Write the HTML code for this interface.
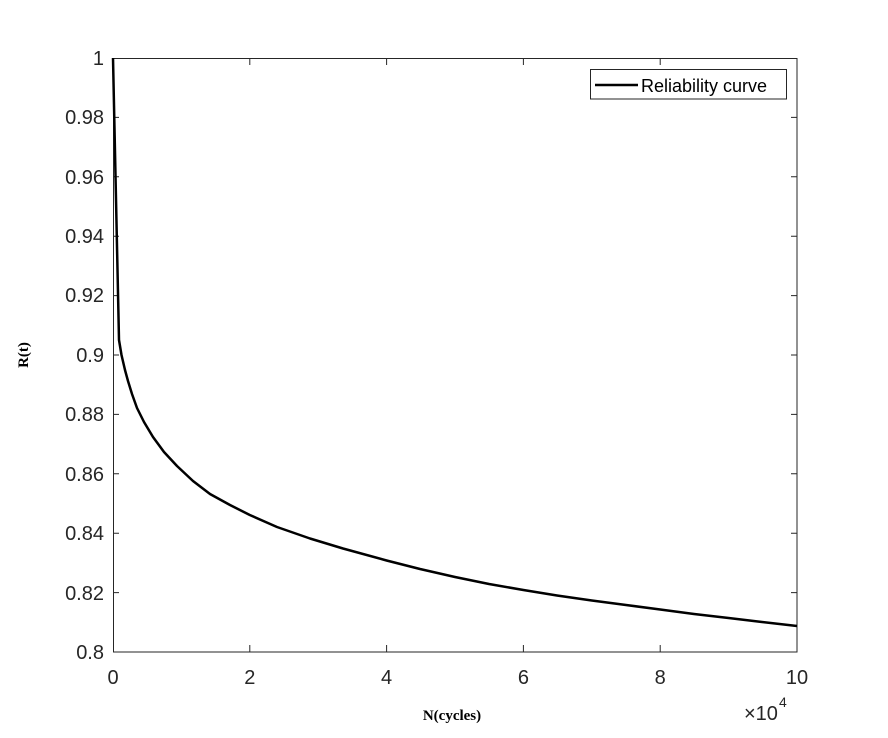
<!DOCTYPE html>
<html><head><style>html,body{margin:0;padding:0;background:#fff;}</style></head>
<body>
<svg width="888" height="733" viewBox="0 0 888 733" xmlns="http://www.w3.org/2000/svg" font-family="Liberation Sans, sans-serif">
<rect x="0" y="0" width="888" height="733" fill="#fff"/>
<g stroke="#262626" stroke-width="1" fill="none">
<rect x="113.5" y="58.5" width="683.5" height="593.5"/>
<path d="M113 592.6h6M113 533.2h6M113 473.8h6M113 414.4h6M113 355h6M113 295.6h6M113 236.2h6M113 176.8h6M113 117.4h6"/>
<path d="M797 592.6h-6M797 533.2h-6M797 473.8h-6M797 414.4h-6M797 355h-6M797 295.6h-6M797 236.2h-6M797 176.8h-6M797 117.4h-6"/>
<path d="M249.8 652v-7M386.6 652v-7M523.4 652v-7M660.2 652v-7M249.8 58v7M386.6 58v7M523.4 58v7M660.2 58v7"/>
</g>
<polyline fill="none" stroke="#000" stroke-width="2.5" stroke-linejoin="round" points="113,58 119,340 121.5,355 125,370 128,381 132,394 137,408 144,422 153,437 164,452 177,466 193,481 210,494 230,505 249.8,515 277,527 310,538.5 343,548.5 386.6,560.5 420,569 455,577 489,584 523.4,590 557,595.5 591.8,600.5 626,605 660.2,609.5 694,614 728.6,618 762,622 797,626"/>
<g font-size="20" fill="#262626" text-anchor="end">
<text x="104" y="659">0.8</text><text x="104" y="600">0.82</text><text x="104" y="540">0.84</text><text x="104" y="481">0.86</text><text x="104" y="421">0.88</text><text x="104" y="362">0.9</text><text x="104" y="302">0.92</text><text x="104" y="243">0.94</text><text x="104" y="184">0.96</text><text x="104" y="124">0.98</text><text x="104" y="65">1</text>
</g>
<g font-size="20" fill="#262626" text-anchor="middle">
<text x="113" y="684">0</text><text x="249.8" y="684">2</text><text x="386.6" y="684">4</text><text x="523.4" y="684">6</text><text x="660.2" y="684">8</text><text x="797" y="684">10</text>
</g>
<text x="744" y="720" font-size="20" fill="#262626">×10</text>
<text x="779" y="707" font-size="14" fill="#262626">4</text>
<text x="452" y="720" font-family="Liberation Serif, serif" font-weight="bold" font-size="15" text-anchor="middle" fill="#000">N(cycles)</text>
<text transform="translate(28,355) rotate(-90)" font-family="Liberation Serif, serif" font-weight="bold" font-size="15" text-anchor="middle" fill="#000">R(t)</text>
<rect x="590.5" y="69.5" width="196" height="29.5" fill="#fff" stroke="#262626" stroke-width="1"/>
<line x1="595" y1="85" x2="638" y2="85" stroke="#000" stroke-width="2.5"/>
<text x="641" y="92" font-size="18" fill="#000">Reliability curve</text>
</svg>
</body></html>
